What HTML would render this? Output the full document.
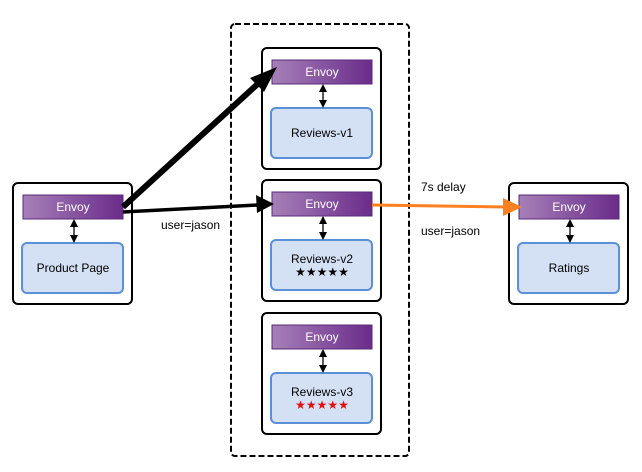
<!DOCTYPE html>
<html><head><style>body{margin:0;background:#fff}svg{display:block}text{font-family:"Liberation Sans",sans-serif;font-size:12px}</style></head><body>
<svg width="642" height="472" viewBox="0 0 642 472" xmlns="http://www.w3.org/2000/svg">
<defs>
<linearGradient id="g" x1="0" x2="1"><stop offset="0" stop-color="#a680b8"/><stop offset="1" stop-color="#6a2c8a"/></linearGradient>
</defs>
<rect x="231" y="24" width="178" height="432" rx="4" fill="none" stroke="#000" stroke-width="2" stroke-dasharray="6,3"/>
<g stroke="#000" stroke-width="2" fill="#fff">
<rect x="13" y="183" width="119" height="121" rx="5"/>
<rect x="262" y="48" width="119" height="121" rx="5"/>
<rect x="262" y="180" width="119" height="121" rx="5"/>
<rect x="262" y="313" width="119" height="121" rx="5"/>
<rect x="509" y="183" width="119" height="121" rx="5"/>
</g>
<g fill="url(#g)" stroke="#5a2a78" stroke-width="1">
<rect x="23" y="195" width="100" height="24"/>
<rect x="272" y="60" width="100" height="24"/>
<rect x="272" y="192" width="100" height="24"/>
<rect x="272" y="325" width="100" height="24"/>
<rect x="519" y="195" width="100" height="24"/>
</g>
<g fill="#fff" text-anchor="middle">
<text x="73" y="211">Envoy</text><text x="322" y="76">Envoy</text><text x="322" y="208">Envoy</text><text x="322" y="341">Envoy</text><text x="569" y="211">Envoy</text>
</g>
<g fill="#d4e1f5" stroke="#5b8fd6" stroke-width="2">
<rect x="22" y="243" width="101" height="50" rx="5"/>
<rect x="271" y="108" width="101" height="50" rx="5"/>
<rect x="271" y="240" width="101" height="50" rx="5"/>
<rect x="271" y="373" width="101" height="50" rx="5"/>
<rect x="518" y="243" width="101" height="50" rx="5"/>
</g>
<g fill="#000" text-anchor="middle">
<text x="73" y="272">Product Page</text>
<text x="322" y="137">Reviews-v1</text>
<text x="322" y="263">Reviews-v2</text>
<text x="322" y="276" font-size="16" font-family="DejaVu Sans">★★★★★</text>
<text x="322" y="396">Reviews-v3</text>
<text x="322" y="409" font-size="16" font-family="DejaVu Sans" fill="#e01010">★★★★★</text>
<text x="569" y="272">Ratings</text>
</g>
<g stroke="#000" stroke-width="1.3">
<line x1="74" y1="224" x2="74" y2="238"/>
<line x1="323" y1="89" x2="323" y2="103"/>
<line x1="323" y1="221" x2="323" y2="235"/>
<line x1="323" y1="354" x2="323" y2="368"/>
<line x1="570" y1="224" x2="570" y2="238"/>
</g>
<g fill="#000">
<path d="M74,219l-4,8h8z M74,243l-4,-8h8z"/>
<path d="M323,84l-4,8h8z M323,108l-4,-8h8z"/>
<path d="M323,216l-4,8h8z M323,240l-4,-8h8z"/>
<path d="M323,349l-4,8h8z M323,373l-4,-8h8z"/>
<path d="M570,219l-4,8h8z M570,243l-4,-8h8z"/>
</g>
<line x1="123" y1="207" x2="262" y2="80" stroke="#000" stroke-width="6"/>
<path d="M277,67L250,78L264,92z" fill="#000"/>
<line x1="123" y1="212" x2="258" y2="205" stroke="#000" stroke-width="3.5"/>
<path d="M274,204L256,195L257,213z" fill="#000"/>
<line x1="372" y1="205" x2="506" y2="207" stroke="#ff8020" stroke-width="3"/>
<path d="M522,207L503,198L503,216z" fill="#ff8020"/>
<text x="161" y="229">user=jason</text>
<text x="421" y="191">7s delay</text>
<text x="421" y="235">user=jason</text>
</svg>
</body></html>
